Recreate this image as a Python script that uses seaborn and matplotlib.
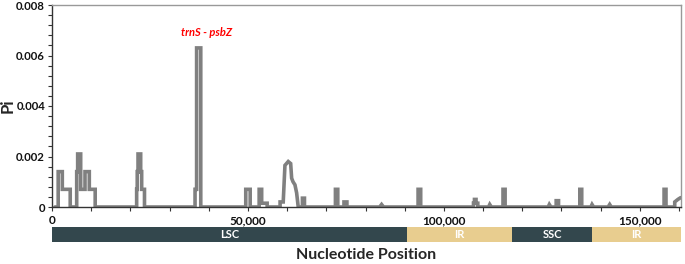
import matplotlib
matplotlib.use("Agg")
import matplotlib.pyplot as plt
import seaborn as sns
import pandas as pd
from matplotlib.ticker import MultipleLocator

# ---- data ----
position = [750, 1580, 1580, 2630, 2630, 4650, 4650, 6300, 6300, 6550, 6550, 7320, 7320, 8420, 8420, 9520, 9520, 11020, 11020,
            21600, 21600, 21750, 21750, 21950, 21950, 22630, 22630, 22880, 22880, 23600, 23600,
            36500, 36500, 36900, 36900, 37960, 37960,
            49440, 49440, 50570, 50570,
            52860, 52860, 53500, 53500, 54900, 54900,
            58200, 58200, 59000, 59440, 60280, 60900, 61150, 61500, 61990, 62420, 62830,
            63900, 63900, 64420, 64420,
            72320, 72320, 72920, 72920,
            74500, 74500, 75250, 75250,
            83600, 84100, 84600,
            93410, 93410, 94080, 94080,
            107550, 107550, 107800, 107800, 108200, 108200, 108650, 108650,
            111400, 111700, 112100,
            115080, 115080, 115620, 115620,
            126600, 126900, 127300,
            128650, 128650, 129250, 129250,
            134680, 134680, 135170, 135170,
            137500, 137800, 138200,
            141900, 142300, 142700,
            156180, 156180, 156670, 156670,
            158900, 158900, 159700, 160400]
pi = [0, 0, 0.0014, 0.0014, 0.0007, 0.0007, 0, 0, 0.0014, 0.0014, 0.0021, 0.0021, 0.0007, 0.0007, 0.0014, 0.0014, 0.0007, 0.0007, 0,
      0, 0.0007, 0.0007, 0.0014, 0.0014, 0.0021, 0.0021, 0.0014, 0.0014, 0.0007, 0.0007, 0,
      0, 0.0007, 0.0007, 0.0063, 0.0063, 0,
      0, 0.0007, 0.0007, 0,
      0, 0.0007, 0.0007, 0.00015, 0.00015, 0,
      0, 0.0002, 0.0002, 0.00165, 0.0018, 0.00172, 0.00114, 0.0010, 0.00088, 0.00056, 0,
      0, 0.00035, 0.00035, 0,
      0, 0.0007, 0.0007, 0,
      0, 0.0002, 0.0002, 0,
      0, 0.0001, 0,
      0, 0.0007, 0.0007, 0,
      0, 0.00015, 0.00015, 0.0003, 0.0003, 0.00015, 0.00015, 0,
      0, 0.0001, 0,
      0, 0.0007, 0.0007, 0,
      0, 0.0001, 0,
      0, 0.00025, 0.00025, 0,
      0, 0.0007, 0.0007, 0,
      0, 0.0001, 0,
      0, 0.0001, 0,
      0, 0.0007, 0.0007, 0,
      0, 0.0002, 0.0003, 0.00037]

region_names = ["LSC", "IR", "SSC", "IR"]
region_starts = [0, 90500, 117500, 137700]
region_ends = [90500, 117500, 137700, 160500]
region_colors = ["#33474d", "#e8cd8f", "#33474d", "#e8cd8f"]

xticks = [0, 50000, 100000, 150000]
xtick_labels = ["0", "50,000", "100,000", "150,000"]
yticks = [0, 0.002, 0.004, 0.006, 0.008]
ytick_labels = ["0", "0.002", "0.004", "0.006", "0.008"]

annotation_text = "trnS - psbZ"
annotation_x = 39500
annotation_y = 0.0069

# ---- plotting ----
sns.set_theme(style="white")
plt.rcParams["font.family"] = ["Lato", "DejaVu Sans"]

fig = plt.figure(figsize=(6.85, 2.64), dpi=100)
L, R = 52 / 685, 681 / 685
ax = fig.add_axes([L, 1 - 207 / 264, R - L, (207 - 5) / 264])
axr = fig.add_axes([L, 1 - 242 / 264, R - L, 15 / 264])

df = pd.DataFrame({"position": position, "pi": pi})
sns.lineplot(data=df, x="position", y="pi", sort=False, estimator=None,
             color="#808080", lw=2.6, ax=ax, solid_joinstyle="miter")

xmax = 160500
ax.set_xlim(0, xmax)
ax.set_ylim(0, 0.008)
ax.set_xticks(xticks)
ax.set_xticklabels(xtick_labels, fontsize=8.5, fontweight="bold", color="#111111")
ax.set_yticks(yticks)
ax.set_yticklabels(ytick_labels, fontsize=8.2, fontweight="bold", color="#111111")
ax.xaxis.set_minor_locator(MultipleLocator(10000))
ax.yaxis.set_minor_locator(MultipleLocator(0.0004))
ax.tick_params(axis="both", which="both", direction="out", length=3, width=0.8,
               color="#333333", bottom=True, left=True, pad=2)
ax.tick_params(axis="x", which="major", pad=3)
ax.set_xlabel("")
ax.set_ylabel("Pi", fontsize=12, fontweight="bold")
ax.yaxis.set_label_coords(-0.058, 0.5)
for s in ["left", "bottom"]:
    ax.spines[s].set_color("#333333")
    ax.spines[s].set_linewidth(1.0)
for s in ["top", "right"]:
    ax.spines[s].set_color("#999999")
    ax.spines[s].set_linewidth(1.0)

ax.text(annotation_x, annotation_y, annotation_text, color="#ff0000", fontsize=8,
        fontweight="bold", fontstyle="italic", ha="center", va="center")

# region bar
for name, s, e, c in zip(region_names, region_starts, region_ends, region_colors):
    axr.barh(0, e - s, left=s, height=1, color=c, edgecolor="none")
    axr.text((s + e) / 2, 0, name, color="white", fontsize=8, fontweight="bold",
             ha="center", va="center")
axr.set_xlim(0, xmax)
axr.set_ylim(-0.5, 0.5)
axr.axis("off")

fig.text((L + R) / 2, 1 - 255 / 264, "Nucleotide Position", fontsize=11.5,
         fontweight="bold", ha="center", va="center")

fig.savefig("out.png", dpi=100)
